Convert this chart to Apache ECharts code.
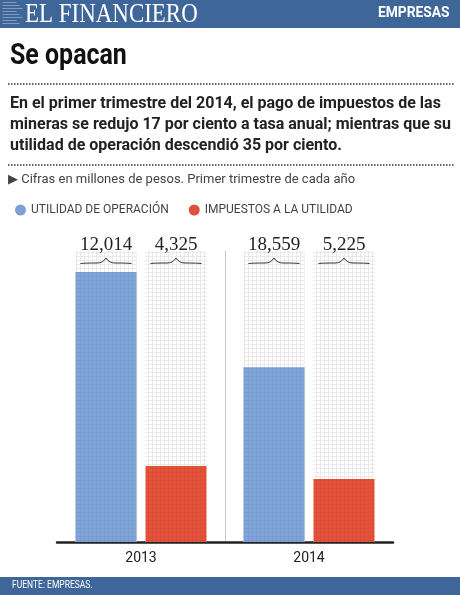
<!DOCTYPE html>
<html>
<head>
<meta charset="utf-8">
<script src="https://cdn.jsdelivr.net/npm/echarts@6/dist/echarts.min.js"></script>
<style>
  html, body { margin: 0; padding: 0; background: #fff; }
  #chart { width: 460px; height: 595px; }
</style>
</head>
<body>
<div id="chart"></div>
<script>
(function () {
    var years = ['2013', '2014'];
    var utilidad = [18559, 12014];
    var impuestos = [5225, 4325];
    // labels exactly as printed above each column
    var utilidadLabels = ['12,014', '18,559'];
    var impuestosLabels = ['4,325', '5,225'];
    var yMax = 20000;

    var narrow = '"Liberation Sans Narrow", "Roboto", sans-serif';
    var serif = '"Liberation Serif", "DejaVu Serif", serif';
    var blue = '#3e6699';

    function pattern(bg, line) {
        var c = document.createElement('canvas');
        c.width = 4; c.height = 4;
        var ctx = c.getContext('2d');
        ctx.fillStyle = bg;
        ctx.fillRect(0, 0, 4, 4);
        ctx.fillStyle = line;
        ctx.fillRect(0, 0, 4, 1);
        ctx.fillRect(0, 0, 1, 4);
        return { image: c, repeat: 'repeat' };
    }

    var gridBg = pattern('#ffffff', '#e9e9e9');
    var bluePat = pattern('#80a4d8', '#789dd2');
    var redPat = pattern('#e4523c', '#dc4c37');

    var barW = 61, gap = 9;

    function brace(params, api) {
        var cat = api.value(0);
        var which = api.value(1);
        var top = api.coord([cat, yMax]);
        var cx = top[0] + (which === 0 ? -1 : 1) * (barW + gap) / 2;
        var y = top[1] + 12;
        var half = barW / 2 - 5;
        var text = which === 0 ? utilidadLabels[cat] : impuestosLabels[cat];
        return {
            type: 'group',
            children: [{
                type: 'path',
                shape: {
                    pathData: 'M' + (cx - half) + ' ' + (y + 0.5) +
                        ' Q' + (cx - half + 4) + ' ' + y + ' ' + (cx - 9) + ' ' + y +
                        ' Q' + (cx - 3) + ' ' + y + ' ' + cx + ' ' + (y - 5) +
                        ' Q' + (cx + 3) + ' ' + y + ' ' + (cx + 9) + ' ' + y +
                        ' Q' + (cx + half - 4) + ' ' + y + ' ' + (cx + half) + ' ' + (y + 0.5)
                },
                style: { fill: null, stroke: '#333', lineWidth: 1 }
            }, {
                type: 'text',
                style: {
                    text: text, x: cx, y: top[1] - 6,
                    align: 'center', verticalAlign: 'middle',
                    font: '19px ' + serif, fill: '#222'
                }
            }]
        };
    }

    var headerLines = [];
    for (var i = 0; i < 8; i++) {
        headerLines.push({
            type: 'line',
            shape: { x1: 0, y1: 3 + i * 3, x2: 14 + (i % 3) * 3, y2: 3 + i * 3 },
            style: { stroke: 'rgba(255,255,255,0.35)', lineWidth: 1 }
        });
    }

    var option = {
        animation: false,
        backgroundColor: '#fff',
        graphic: [
            { type: 'rect', left: 0, top: 0, shape: { width: 460, height: 28 }, style: { fill: blue } },
            { type: 'group', left: 0, top: 0, children: headerLines },
            { type: 'text', left: 25, top: 1, scaleX: 0.85, style: { text: 'EL FINANCIERO', font: '27px ' + serif, fill: '#fff' } },
            { type: 'text', left: 378, top: 6, scaleX: 0.92, style: { text: 'EMPRESAS', font: 'bold 15px ' + narrow, fill: '#fff' } },
            { type: 'text', left: 10, top: 42, scaleX: 0.86, style: { text: 'Se opacan', font: 'bold 29px ' + narrow, fill: '#111' } },
            { type: 'line', shape: { x1: 8, y1: 84, x2: 455, y2: 84 }, style: { stroke: '#333', lineWidth: 1.5, lineDash: [1.5, 1.5] } },
            { type: 'text', left: 10, top: 93, style: {
                text: 'En el primer trimestre del 2014, el pago de impuestos de las\nmineras se redujo 17 por ciento a tasa anual; mientras que su\nutilidad de operación descendió 35 por ciento.',
                font: 'bold 16px ' + narrow, fill: '#222', lineHeight: 21 } },
            { type: 'line', shape: { x1: 8, y1: 165, x2: 455, y2: 165 }, style: { stroke: '#333', lineWidth: 1.5, lineDash: [1.5, 1.5] } },
            { type: 'text', left: 8, top: 173, style: { text: '\u25B6 Cifras en millones de pesos. Primer trimestre de cada año', font: '13px ' + narrow, fill: '#444' } },
            { type: 'rect', left: 0, top: 577, shape: { width: 460, height: 18 }, style: { fill: blue } },
            { type: 'text', left: 12, top: 580, scaleX: 0.85, style: { text: 'FUENTE: EMPRESAS.', font: '10px ' + narrow, fill: '#fff' } }
        ],
        legend: {
            left: 10, top: 199,
            icon: 'circle', itemWidth: 11, itemHeight: 11, itemGap: 20,
            textStyle: { fontFamily: narrow, fontSize: 12, color: '#444' },
            data: ['UTILIDAD DE OPERACIÓN', 'IMPUESTOS A LA UTILIDAD']
        },
        grid: { left: 57, right: 67, top: 251, bottom: 53 },
        xAxis: {
            type: 'category',
            data: years,
            axisLine: { lineStyle: { color: '#222', width: 2.5 } },
            axisTick: { show: false },
            axisLabel: { fontFamily: narrow, fontSize: 14, color: '#222', margin: 9 },
            splitLine: { show: true, showMinLine: false, showMaxLine: false, lineStyle: { color: '#c8c8c8', width: 1 } }
        },
        yAxis: {
            type: 'value', min: 0, max: yMax, show: false
        },
        series: [{
            name: 'UTILIDAD DE OPERACIÓN',
            type: 'bar',
            data: utilidad,
            barWidth: barW,
            barGap: (gap / barW * 100) + '%',
            itemStyle: { color: bluePat },
            showBackground: true,
            backgroundStyle: { color: gridBg }
        }, {
            name: 'IMPUESTOS A LA UTILIDAD',
            type: 'bar',
            data: impuestos,
            barWidth: barW,
            itemStyle: { color: redPat },
            showBackground: true,
            backgroundStyle: { color: gridBg }
        }, {
            type: 'custom',
            renderItem: brace,
            data: [[0, 0], [0, 1], [1, 0], [1, 1]],
            z: 5,
            silent: true
        }],
        color: ['#80a4d8', '#e4523c']
    };

    var chart = echarts.init(document.getElementById('chart'));
    chart.setOption(option);
})();
</script>
</body>
</html>
